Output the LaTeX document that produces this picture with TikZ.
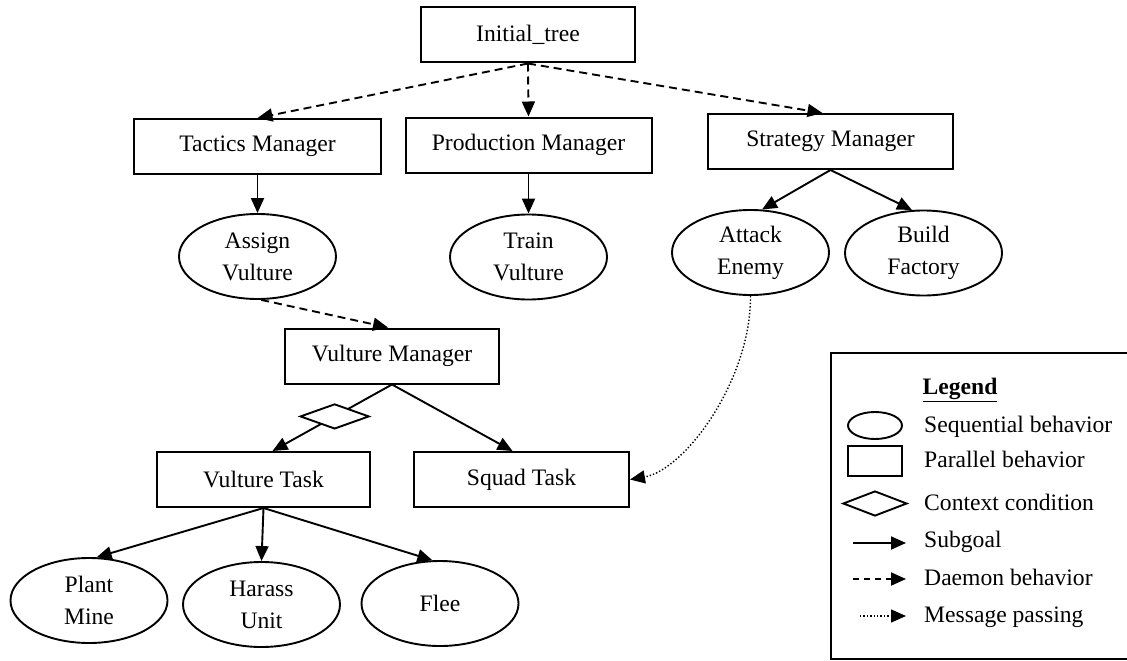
\documentclass[tikz,border=0pt]{standalone}
\usepackage{fontspec}
\setmainfont{Liberation Serif}
\usetikzlibrary{arrows.meta,shapes.geometric}
\begin{document}
\begin{tikzpicture}[x=1pt,y=-1pt,
  every node/.style={font=\fontsize{23.6}{32}\selectfont},
  box/.style={draw,line width=2pt,rectangle,inner sep=0pt,minimum width=#1,minimum height=55pt},
  box/.default=214pt,
  oval/.style={draw,ellipse,line width=1.9pt,inner sep=0pt,minimum width=157pt,minimum height=85pt,align=center},
  cond/.style={draw,diamond,fill=white,line width=1.9pt,inner sep=0pt,aspect=2.76,minimum width=69pt,minimum height=25pt},
  sub/.style={-{Triangle[length=15pt,width=13pt]},line width=1.9pt},
  daemon/.style={sub,dash pattern=on 8pt off 5pt},
  msg/.style={-{Triangle[length=15pt,width=13pt]},line width=1.4pt,dash pattern=on 1.4pt off 2pt},
  legtext/.style={anchor=west,inner sep=0pt,text height=16pt,text depth=5pt}]
\useasboundingbox (0,0) rectangle (1127,661);

% behaviour tree
\node[box=214pt] (it) at (528,35) {Initial\_tree};
\node[box=247pt] (tm) at (257.5,146.5) {Tactics Manager};
\node[box=246pt] (pm) at (528.5,145) {Production Manager};
\node[box=245pt] (sm) at (830.5,141.5) {Strategy Manager};
\node[oval] (av) at (257.5,256.5) {Assign\\Vulture};
\node[oval] (tv) at (528.5,257) {Train\\Vulture};
\node[oval] (ae) at (750.5,252.5) {Attack\\Enemy};
\node[oval] (bf) at (923.5,253) {Build\\Factory};
\node[box=214pt] (vm) at (392,356) {Vulture Manager};
\node[box=213pt] (vt) at (263.5,479.5) {Vulture Task};
\node[box=215pt] (sq) at (521.5,479.5) {Squad Task};
\node[oval] (pmine) at (89,600.5) {Plant\\Mine};
\node[oval] (hu) at (261.5,604.5) {Harass\\Unit};
\node[oval] (fl) at (440,603.5) {Flee};

% connectors
\draw[daemon] (it.south) -- (tm.north);
\draw[daemon] (it.south) -- (pm.north);
\draw[daemon] (it.south) -- ([xshift=-8pt]sm.north);
\draw[sub] (tm.south) -- (av.north);
\draw[sub] (pm.south) -- (tv.north);
\draw[sub] (sm.south) -- (ae.75);
\draw[sub] (sm.south) -- (bf.105);
\draw[daemon] (av.-85) -- ([xshift=-4pt]vm.north);
\draw[sub] (vm.south) -- node[cond,pos=0.48] (cc) {} ([xshift=9pt]vt.north);
\draw[sub] (vm.south) -- ([xshift=-9pt]sq.north);
\draw[msg] (ae.south) .. controls (751,380) and (685,470) .. (sq.east);
\draw[sub] (vt.south) -- (pmine.80);
\draw[sub] (vt.south) -- (hu.north);
\draw[sub] (vt.south) -- (fl.100);

% legend
\draw[line width=2pt] (1127,353) -- (831,353) -- (831,659) -- (1127,659);
\node (lt) at (960,390) {\bfseries\underline{Legend}};
\node[draw,ellipse,line width=1.9pt,inner sep=0pt,minimum width=54pt,minimum height=27pt] (le) at (875,425.5) {};
\node[draw,rectangle,line width=2pt,inner sep=0pt,minimum width=54pt,minimum height=30pt] (lr) at (875,461) {};
\node[cond,minimum width=64pt,minimum height=25pt] (ld) at (875,503.5) {};
\coordinate (s1) at (853,543); \coordinate (s2) at (906,543);
\coordinate (d1) at (853,579); \coordinate (d2) at (906,579);
\coordinate (m1) at (860,616); \coordinate (m2) at (906,616);
\draw[sub] (s1) -- (s2);
\draw[sub,dash pattern=on 6pt off 5pt] (d1) -- (d2);
\draw[msg] (m1) -- (m2);
\node[legtext] (l1) at (924,427) {Sequential behavior};
\node[legtext] (l2) at (924,462) {Parallel behavior};
\node[legtext] (l3) at (924,505) {Context condition};
\node[legtext] (l4) at (924,542) {Subgoal};
\node[legtext] (l5) at (924,580) {Daemon behavior};
\node[legtext] (l6) at (924,617) {Message passing};
\end{tikzpicture}
\end{document}
